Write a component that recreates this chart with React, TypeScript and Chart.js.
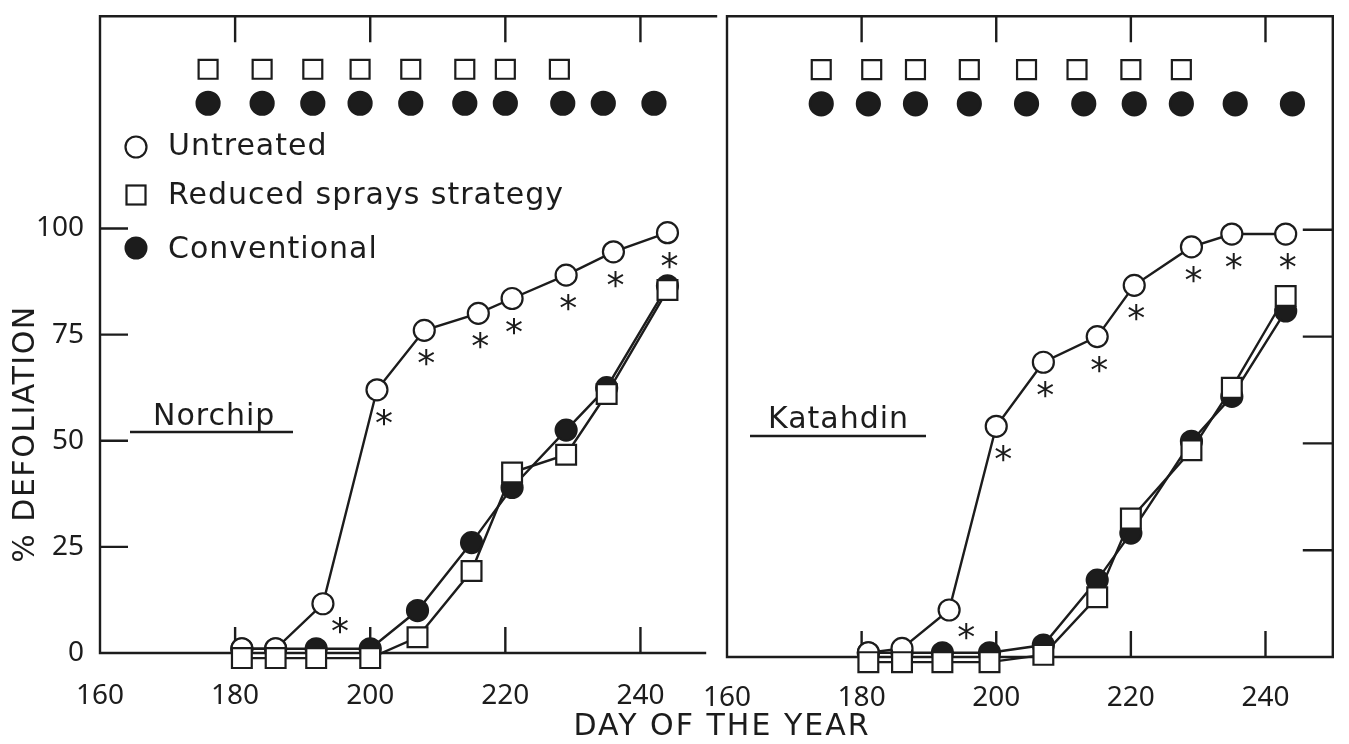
import { useEffect, useRef } from "react";
import { Chart, registerables } from "chart.js";

Chart.register(...registerables);

// ---------------- data ----------------
const xTickValues = [160, 180, 200, 220, 240];
const yTickValues = [0, 25, 50, 75, 100];
const innerXTickValues = [180, 200, 220, 240];
const innerYTickValues = [25, 50, 75, 100];

const seriesNames = ["Untreated", "Reduced sprays strategy", "Conventional"];
const xAxisTitle = "DAY OF THE YEAR";
const yAxisTitle = "% DEFOLIATION";

// Norchip
const norchipUntreatedDays = [181, 186, 193, 201, 208, 216, 221, 229, 236, 244];
const norchipUntreated = [1, 1, 11.6, 62, 76, 80, 83.5, 89, 94.5, 99];
const norchipTreatedDays = [181, 186, 192, 200, 207, 215, 221, 229, 235, 244];
const norchipConventional = [1, 1, 1, 1, 10, 26, 39, 52.5, 62.5, 86.5];
const norchipReduced = [-1.2, -1.2, -1.2, -1.2, 3.7, 19.3, 42.5, 46.7, 61, 85.5];
const norchipReducedSprayDays = [176, 184, 191.5, 198.5, 206, 214, 220, 228];
const norchipConventionalSprayDays = [176, 184, 191.5, 198.5, 206, 214, 220, 228.5, 234.5, 242];
const norchipSignificant = [0, 0, 1, 1, 1, 1, 1, 1, 1, 1];

// Katahdin
const katahdinUntreatedDays = [181, 186, 193, 200, 207, 215, 220.5, 229, 235, 243];
const katahdinUntreated = [1, 2, 11, 54, 69, 75, 87, 96, 99, 99];
const katahdinTreatedDays = [181, 186, 192, 199, 207, 215, 220, 229, 235, 243];
const katahdinConventional = [1, 1, 1, 1, 2.8, 18, 29, 50.5, 61, 81];
const katahdinReduced = [-1.2, -1.2, -1.2, -1.2, 0.5, 14, 32.4, 48.4, 63, 84.5];
const katahdinReducedSprayDays = [174, 181.5, 188, 196, 204.5, 212, 220, 227.5];
const katahdinConventionalSprayDays = [174, 181, 188, 196, 204.5, 213, 220.5, 227.5, 235.5, 244];
const katahdinSignificant = [0, 0, 1, 1, 1, 1, 1, 1, 1, 1];

const reducedSprayRow = 137.5;
const conventionalSprayRow = 129.5;

// ---------------- style ----------------
const INK = "#1c1c1c";
const TEXT_FONT = "'DejaVu Sans', sans-serif";
const TICK_FONT = "'Noto Sans', sans-serif";

type Panel = {
  name: string;
  untreatedDays: number[];
  untreated: number[];
  treatedDays: number[];
  conventional: number[];
  reduced: number[];
  reducedSprays: number[];
  conventionalSprays: number[];
  significant: number[];
};

const norchip: Panel = {
  name: "Norchip",
  untreatedDays: norchipUntreatedDays,
  untreated: norchipUntreated,
  treatedDays: norchipTreatedDays,
  conventional: norchipConventional,
  reduced: norchipReduced,
  reducedSprays: norchipReducedSprayDays,
  conventionalSprays: norchipConventionalSprayDays,
  significant: norchipSignificant,
};

const katahdin: Panel = {
  name: "Katahdin",
  untreatedDays: katahdinUntreatedDays,
  untreated: katahdinUntreated,
  treatedDays: katahdinTreatedDays,
  conventional: katahdinConventional,
  reduced: katahdinReduced,
  reducedSprays: katahdinReducedSprayDays,
  conventionalSprays: katahdinConventionalSprayDays,
  significant: katahdinSignificant,
};

function pts(xs: number[], ys: number[]) {
  return xs.map((x, i) => ({ x, y: ys[i] }));
}

type Layout = {
  isLeft: boolean;
  padding: { left: number; top: number; right: number; bottom: number };
  xAxisHeight: number;
  xLabelPad: number;
  labelX: number;
  labelBaseline: number;
  underline: [number, number, number];
};

const framePlugin = {
  id: "frame",
  beforeDatasetsDraw(chart: any, _args: any, opts: any) {
    const { ctx, chartArea: a, scales } = chart;
    const x = scales.x;
    const y = scales.y;
    ctx.save();
    ctx.strokeStyle = INK;
    ctx.lineWidth = 2.4;
    ctx.lineCap = "square";
    ctx.beginPath();
    ctx.moveTo(a.left, a.top);
    ctx.lineTo(a.left, a.bottom);
    ctx.moveTo(a.left, a.bottom);
    ctx.lineTo(a.right + opts.bottomExtra, a.bottom);
    ctx.moveTo(a.left, a.top);
    ctx.lineTo(a.right + opts.topExtra, a.top);
    if (opts.rightBorder) {
      ctx.moveTo(a.right, a.top);
      ctx.lineTo(a.right, a.bottom);
    }
    ctx.stroke();
    ctx.lineCap = "butt";
    ctx.beginPath();
    for (const v of innerXTickValues) {
      const px = x.getPixelForValue(v);
      ctx.moveTo(px, a.bottom);
      ctx.lineTo(px, a.bottom - 26);
      ctx.moveTo(px, a.top);
      ctx.lineTo(px, a.top + 26);
    }
    for (const v of innerYTickValues) {
      const py = y.getPixelForValue(v);
      if (opts.ySide === "left") {
        ctx.moveTo(a.left, py);
        ctx.lineTo(a.left + 28, py);
      } else {
        ctx.moveTo(a.right, py);
        ctx.lineTo(a.right - 30, py);
      }
    }
    ctx.stroke();
    ctx.restore();
  },
};

const annotatePlugin = {
  id: "annotate",
  afterDatasetsDraw(chart: any, _args: any, opts: any) {
    const { ctx, scales } = chart;
    const x = scales.x;
    const y = scales.y;
    const panel: Panel = opts.panel;
    const lay: Layout = opts.layout;
    ctx.save();
    ctx.fillStyle = INK;
    ctx.strokeStyle = INK;
    // significance asterisks
    ctx.font = `36px ${TEXT_FONT}`;
    ctx.textAlign = "center";
    ctx.textBaseline = "alphabetic";
    let k = 0;
    panel.significant.forEach((s, i) => {
      if (!s) return;
      const px = x.getPixelForValue(panel.untreatedDays[i]);
      const py = y.getPixelForValue(panel.untreated[i]);
      const dx = k === 0 ? 17 : k === 1 ? 7 : 2;
      const dy = k === 0 ? 18 : 24;
      ctx.fillText("*", px + dx, py + dy + 21);
      k++;
    });
    // panel label
    (ctx as any).letterSpacing = "1px";
    ctx.textAlign = "left";
    ctx.font = `30px ${TEXT_FONT}`;
    ctx.fillText(panel.name, lay.labelX, lay.labelBaseline);
    ctx.lineWidth = 2.4;
    ctx.beginPath();
    ctx.moveTo(lay.underline[0], lay.underline[2]);
    ctx.lineTo(lay.underline[1], lay.underline[2]);
    ctx.stroke();

    if (lay.isLeft) {
      // legend
      const lx = 136;
      const rows = [
        { y: 147, base: 155 },
        { y: 195, base: 204 },
        { y: 248, base: 258 },
      ];
      ctx.lineWidth = 2.2;
      ctx.beginPath();
      ctx.arc(lx, rows[0].y, 10.5, 0, Math.PI * 2);
      ctx.fillStyle = "#fff";
      ctx.fill();
      ctx.stroke();
      ctx.fillStyle = "#fff";
      ctx.fillRect(lx - 9.5, rows[1].y - 9.5, 19, 19);
      ctx.strokeRect(lx - 9.5, rows[1].y - 9.5, 19, 19);
      ctx.beginPath();
      ctx.arc(lx, rows[2].y, 11.5, 0, Math.PI * 2);
      ctx.fillStyle = INK;
      ctx.fill();
      seriesNames.forEach((n, i) => ctx.fillText(n, 168, rows[i].base));

      // shared x title
      (ctx as any).letterSpacing = "2px";
      ctx.textAlign = "center";
      ctx.font = `30px ${TEXT_FONT}`;
      ctx.fillText(xAxisTitle, 722, 735);
      // y title
      (ctx as any).letterSpacing = "1.5px";
      ctx.translate(26, 434);
      ctx.rotate(-Math.PI / 2);
      ctx.textBaseline = "middle";
      ctx.fillText(yAxisTitle, 0, 0);
    }
    ctx.restore();
  },
};

function makeConfig(panel: Panel, lay: Layout): any {
  const common = {
    showLine: true,
    borderColor: INK,
    borderWidth: 2.4,
    pointBorderColor: INK,
    pointBorderWidth: 2.2,
    clip: false,
  };
  return {
    type: "scatter",
    data: {
      datasets: [
        {
          ...common,
          label: seriesNames[1],
          data: pts(panel.treatedDays, panel.reduced),
          pointStyle: "rect",
          pointRadius: 14,
          pointBackgroundColor: "#fff",
        },
        {
          ...common,
          label: seriesNames[0],
          data: pts(panel.untreatedDays, panel.untreated),
          pointStyle: "circle",
          pointRadius: 10.5,
          pointBackgroundColor: "#fff",
        },
        {
          ...common,
          label: seriesNames[2],
          data: pts(panel.treatedDays, panel.conventional),
          pointStyle: "circle",
          pointRadius: 10.5,
          pointBackgroundColor: INK,
        },
        {
          ...common,
          showLine: false,
          label: seriesNames[1] + " sprays",
          data: panel.reducedSprays.map((d) => ({ x: d, y: reducedSprayRow })),
          pointStyle: "rect",
          pointRadius: 13.4,
          pointBackgroundColor: "#fff",
        },
        {
          ...common,
          showLine: false,
          label: seriesNames[2] + " sprays",
          data: panel.conventionalSprays.map((d) => ({ x: d, y: conventionalSprayRow })),
          pointStyle: "circle",
          pointRadius: 11.5,
          pointBackgroundColor: INK,
        },
      ],
    },
    options: {
      animation: false,
      responsive: false,
      devicePixelRatio: 1,
      layout: { padding: lay.padding },
      plugins: {
        legend: { display: false },
        tooltip: { enabled: false },
        title: { display: false },
        frame: {
          ySide: lay.isLeft ? "left" : "right",
          rightBorder: !lay.isLeft,
          topExtra: lay.isLeft ? 8 : 0,
          bottomExtra: lay.isLeft ? -3 : 0,
        },
        annotate: { panel, layout: lay },
      },
      scales: {
        x: {
          type: "linear",
          min: 160,
          max: 250,
          grid: { display: false },
          border: { display: false },
          afterBuildTicks: (s: any) => {
            s.ticks = xTickValues.map((v) => ({ value: v }));
          },
          afterFit: (s: any) => {
            s.height = lay.xAxisHeight;
            s.paddingLeft = 0;
            s.paddingRight = 0;
          },
          ticks: {
            color: INK,
            font: { family: TICK_FONT, size: 28 },
            padding: lay.xLabelPad,
            maxRotation: 0,
            autoSkip: false,
          },
        },
        y: {
          type: "linear",
          min: 0,
          max: 150,
          display: lay.isLeft,
          grid: { display: false },
          border: { display: false },
          afterBuildTicks: (s: any) => {
            s.ticks = yTickValues.map((v) => ({ value: v }));
          },
          afterFit: (s: any) => {
            s.width = lay.isLeft ? 100 : 0;
            s.paddingTop = 0;
            s.paddingBottom = 0;
          },
          ticks: {
            color: INK,
            font: { family: TICK_FONT, size: 28 },
            padding: 8,
          },
        },
      },
    },
    plugins: [framePlugin, annotatePlugin],
  };
}

export default function App() {
  const leftRef = useRef<HTMLCanvasElement>(null);
  const rightRef = useRef<HTMLCanvasElement>(null);

  useEffect(() => {
    const left = new Chart(
      leftRef.current as HTMLCanvasElement,
      makeConfig(norchip, {
        isLeft: true,
        padding: { left: 0, top: 10, right: 641, bottom: 0 },
        xAxisHeight: 91,
        xLabelPad: 18,
        labelX: 153,
        labelBaseline: 425,
        underline: [130, 293, 432],
      })
    );
    const right = new Chart(
      rightRef.current as HTMLCanvasElement,
      makeConfig(katahdin, {
        isLeft: false,
        padding: { left: 727, top: 15, right: 12, bottom: 0 },
        xAxisHeight: 87,
        xLabelPad: 16,
        labelX: 768,
        labelBaseline: 428,
        underline: [750, 926, 436],
      })
    );
    return () => {
      left.destroy();
      right.destroy();
    };
  }, []);

  return (
    <div style={{ position: "fixed", left: 0, top: 0, width: 1349, height: 744, background: "#fff" }}>
      <canvas ref={leftRef} width={1349} height={744} style={{ position: "absolute", left: 0, top: 0 }} />
      <canvas ref={rightRef} width={1349} height={744} style={{ position: "absolute", left: 0, top: 0 }} />
    </div>
  );
}
